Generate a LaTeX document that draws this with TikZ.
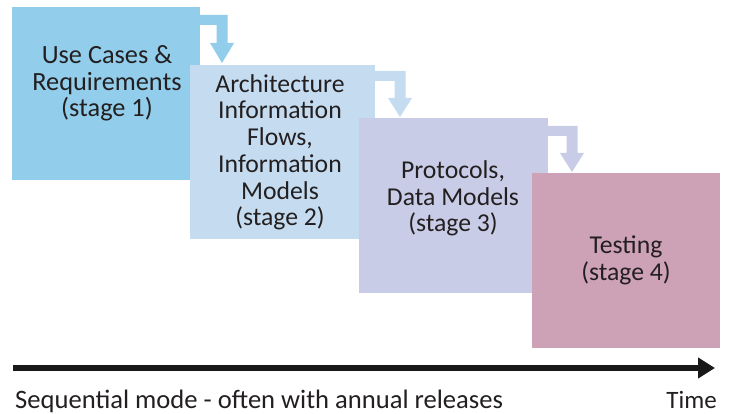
\documentclass[tikz,border=0pt]{standalone}
\usepackage{fontspec}
\setmainfont{Carlito}
\usetikzlibrary{calc,arrows.meta}
\definecolor{cA}{RGB}{146,205,235}
\definecolor{cB}{RGB}{197,220,240}
\definecolor{cC}{RGB}{200,204,230}
\definecolor{cD}{RGB}{205,162,182}
\definecolor{txt}{RGB}{35,31,32}
\tikzset{
  stagebox/.style={draw=none, inner sep=0pt, outer sep=0pt, anchor=north west},
  stagetext/.style={align=center, inner sep=0pt, anchor=base, text=txt,
    font=\fontsize{25.7}{26.7}\selectfont},
  captext/.style={inner sep=0pt, text=txt, font=\fontsize{25}{26.7}\selectfont},
}
\begin{document}
\begin{tikzpicture}[x=1pt,y=-1pt]
\useasboundingbox (0,0) rectangle (731,414);
% boxes
\node[stagebox, fill=cA, minimum width=188pt, minimum height=173pt] (b1) at (12,7) {};
\node[stagebox, fill=cB, minimum width=185pt, minimum height=174pt] (b2) at (190,65) {};
\node[stagebox, fill=cC, minimum width=189pt, minimum height=175pt] (b3) at (359,118) {};
\node[stagebox, fill=cD, minimum width=188pt, minimum height=175pt] (b4) at (532,173) {};
% bent arrows
\fill[cA] let \p1=(b1.north east), \p2=(b2.north) in
  (\x1,\y1-8pt) -- (227.5pt,\y1-8pt) -- (227.5pt,\y2+22pt) -- (234pt,\y2+22pt)
  -- (222pt,\y2+2pt) -- (210pt,\y2+22pt) -- (216.5pt,\y2+22pt)
  -- (216.5pt,\y1-18pt) -- (\x1,\y1-18pt) -- cycle;
\fill[cB] let \p1=(b2.north east), \p2=(b3.north) in
  (\x1,\y1-6pt) -- (405.5pt,\y1-6pt) -- (405.5pt,\y2+20pt) -- (412pt,\y2+20pt)
  -- (400pt,\y2+1pt) -- (388pt,\y2+20pt) -- (394.5pt,\y2+20pt)
  -- (394.5pt,\y1-16pt) -- (\x1,\y1-16pt) -- cycle;
\fill[cC] let \p1=(b3.north east), \p2=(b4.north) in
  (\x1,\y1-8pt) -- (577.5pt,\y1-8pt) -- (577.5pt,\y2+20pt) -- (584pt,\y2+20pt)
  -- (572pt,\y2+1pt) -- (560pt,\y2+20pt) -- (566.5pt,\y2+20pt)
  -- (566.5pt,\y1-18pt) -- (\x1,\y1-18pt) -- cycle;
% texts (anchor = baseline of the last line)
\node[stagetext, font=\fontsize{26.3}{26.5}\selectfont] (t1) at (107,117) {Use Cases \&\\Requirements\\(stage 1)};
\node[stagetext] (t2) at (280,225.7) {Architecture\\Information\\Flows,\\Information\\Models\\(stage 2)};
\node[stagetext] (t3) at (453,232) {Protocols,\\Data Models\\(stage 3)};
\node[stagetext] (t4) at (626,280) {Testing\\(stage 4)};
% time axis
\coordinate (ts) at (13,368);
\coordinate (te) at (715,368);
\draw[line width=6pt, color=black!90, -{Triangle[length=17pt,width=20pt]}] (ts) -- (te);
\node[captext, font=\fontsize{26.6}{28}\selectfont, anchor=base west] (cap) at (15,408) {Sequential mode - often with annual releases};
\node[captext, anchor=base east] (time) at (717,408) {Time};
\end{tikzpicture}
\end{document}
